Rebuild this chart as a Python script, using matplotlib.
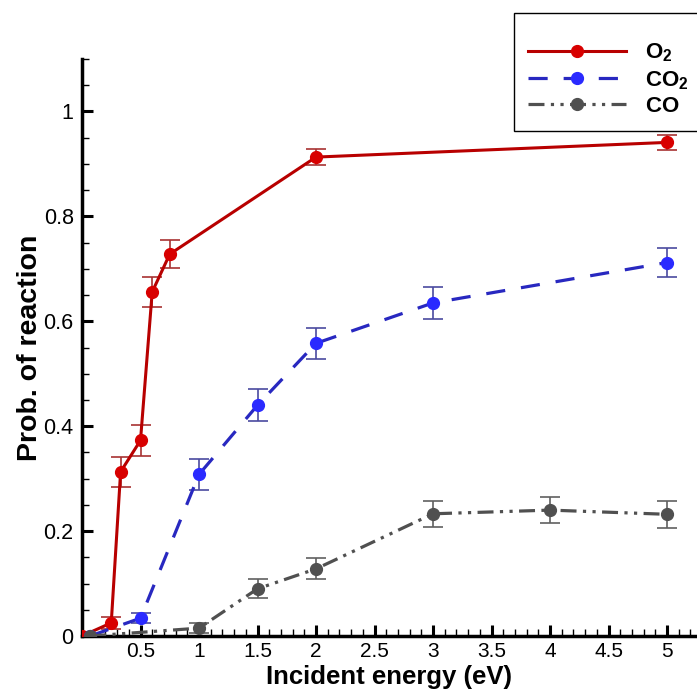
import matplotlib
matplotlib.use("Agg")
from matplotlib import pyplot as plt
from matplotlib.ticker import MultipleLocator, FormatStrFormatter

plt.rcParams['font.family'] = ['Liberation Sans', 'DejaVu Sans']
plt.rcParams['mathtext.fontset'] = 'custom'
plt.rcParams['mathtext.rm'] = 'Liberation Sans'
plt.rcParams['mathtext.bf'] = 'Liberation Sans:bold'

# ---- data ----
o2_x = [0.0, 0.25, 0.33, 0.5, 0.6, 0.75, 2.0, 5.0]
o2_y = [0.0, 0.025, 0.313, 0.373, 0.656, 0.728, 0.913, 0.941]
o2_err = [0.0, 0.012, 0.028, 0.029, 0.028, 0.027, 0.015, 0.014]

co2_x = [0.07, 0.5, 1.0, 1.5, 2.0, 3.0, 5.0]
co2_y = [0.0, 0.034, 0.308, 0.44, 0.558, 0.635, 0.712]
co2_err = [0.0, 0.01, 0.03, 0.031, 0.03, 0.03, 0.028]

co_x = [0.07, 1.0, 1.5, 2.0, 3.0, 4.0, 5.0]
co_y = [0.0, 0.015, 0.09, 0.128, 0.233, 0.24, 0.232]
co_err = [0.0, 0.01, 0.018, 0.02, 0.025, 0.025, 0.026]

labels = [r'$\mathbf{O_2}$', r'$\mathbf{CO_2}$', r'$\mathbf{CO}$']

fig = plt.figure(figsize=(6.97, 6.89), dpi=100)
ax = fig.add_axes([82/697, 1 - 636/689, 1 - 82/697, (636 - 59)/689])

# error bars first (thin, capped)
ax.errorbar(o2_x, o2_y, yerr=o2_err, fmt='none', ecolor='#a83232',
            elinewidth=1.2, capsize=7, capthick=1.2, zorder=2)
ax.errorbar(co2_x, co2_y, yerr=co2_err, fmt='none', ecolor='#4a4aa0',
            elinewidth=1.2, capsize=7, capthick=1.2, zorder=2)
ax.errorbar(co_x, co_y, yerr=co_err, fmt='none', ecolor='#606060',
            elinewidth=1.2, capsize=7, capthick=1.2, zorder=2)

l1, = ax.plot(o2_x, o2_y, color='#b80000', lw=2.2, marker='o', ms=8.5,
              mfc='#d80000', mec='#d80000', zorder=3)
l2, = ax.plot(co2_x, co2_y, color='#2828c0', lw=2.3, ls=(0, (6, 5)),
              marker='o', ms=8.5, mfc='#2a2aff', mec='#2a2aff', zorder=3)
l3, = ax.plot(co_x, co_y, color='#505050', lw=2.3,
              ls=(0, (5, 2, 1, 2, 1, 2)), marker='o', ms=8.5,
              mfc='#505050', mec='#505050', zorder=3)

ax.set_xlim(0, 5.256)
ax.set_ylim(0, 1.1)

ax.xaxis.set_major_locator(MultipleLocator(0.5))
ax.xaxis.set_minor_locator(MultipleLocator(0.1))
ax.yaxis.set_major_locator(MultipleLocator(0.2))
ax.yaxis.set_minor_locator(MultipleLocator(0.05))
ax.xaxis.set_major_formatter(FormatStrFormatter('%g'))
ax.yaxis.set_major_formatter(FormatStrFormatter('%g'))

for side in ['top', 'right']:
    ax.spines[side].set_visible(False)
for side in ['left', 'bottom']:
    ax.spines[side].set_linewidth(2.5)

ax.tick_params(which='major', direction='in', length=8, width=2.2,
               labelsize=15.5, pad=6)
ax.tick_params(axis='x', which='major', labelsize=15, pad=4)
ax.tick_params(which='minor', direction='in', length=5, width=1)
ax.set_xticks([0.5, 1, 1.5, 2, 2.5, 3, 3.5, 4, 4.5, 5])

ax.set_xlabel('Incident energy (eV)', fontsize=18.5, fontweight='bold')
ax.xaxis.set_label_coords(0.5, -0.051)
ax.set_ylabel('Prob. of reaction', fontsize=20.5, fontweight='bold')
ax.yaxis.set_label_coords(-0.063, 0.5)

leg = fig.legend([l1, l2, l3], labels, loc='upper left',
                 bbox_to_anchor=(514/697, 1 - 13/689),
                 bbox_transform=fig.transFigure, fontsize=16,
                 title=' ', title_fontproperties={'size': 7},
                 frameon=True, fancybox=False, framealpha=1,
                 edgecolor='black', handlelength=4.4, handletextpad=0.85,
                 labelspacing=0.2, borderpad=0.65, borderaxespad=0)
leg.get_frame().set_linewidth(1.0)

fig.savefig('out.png', dpi=100)
